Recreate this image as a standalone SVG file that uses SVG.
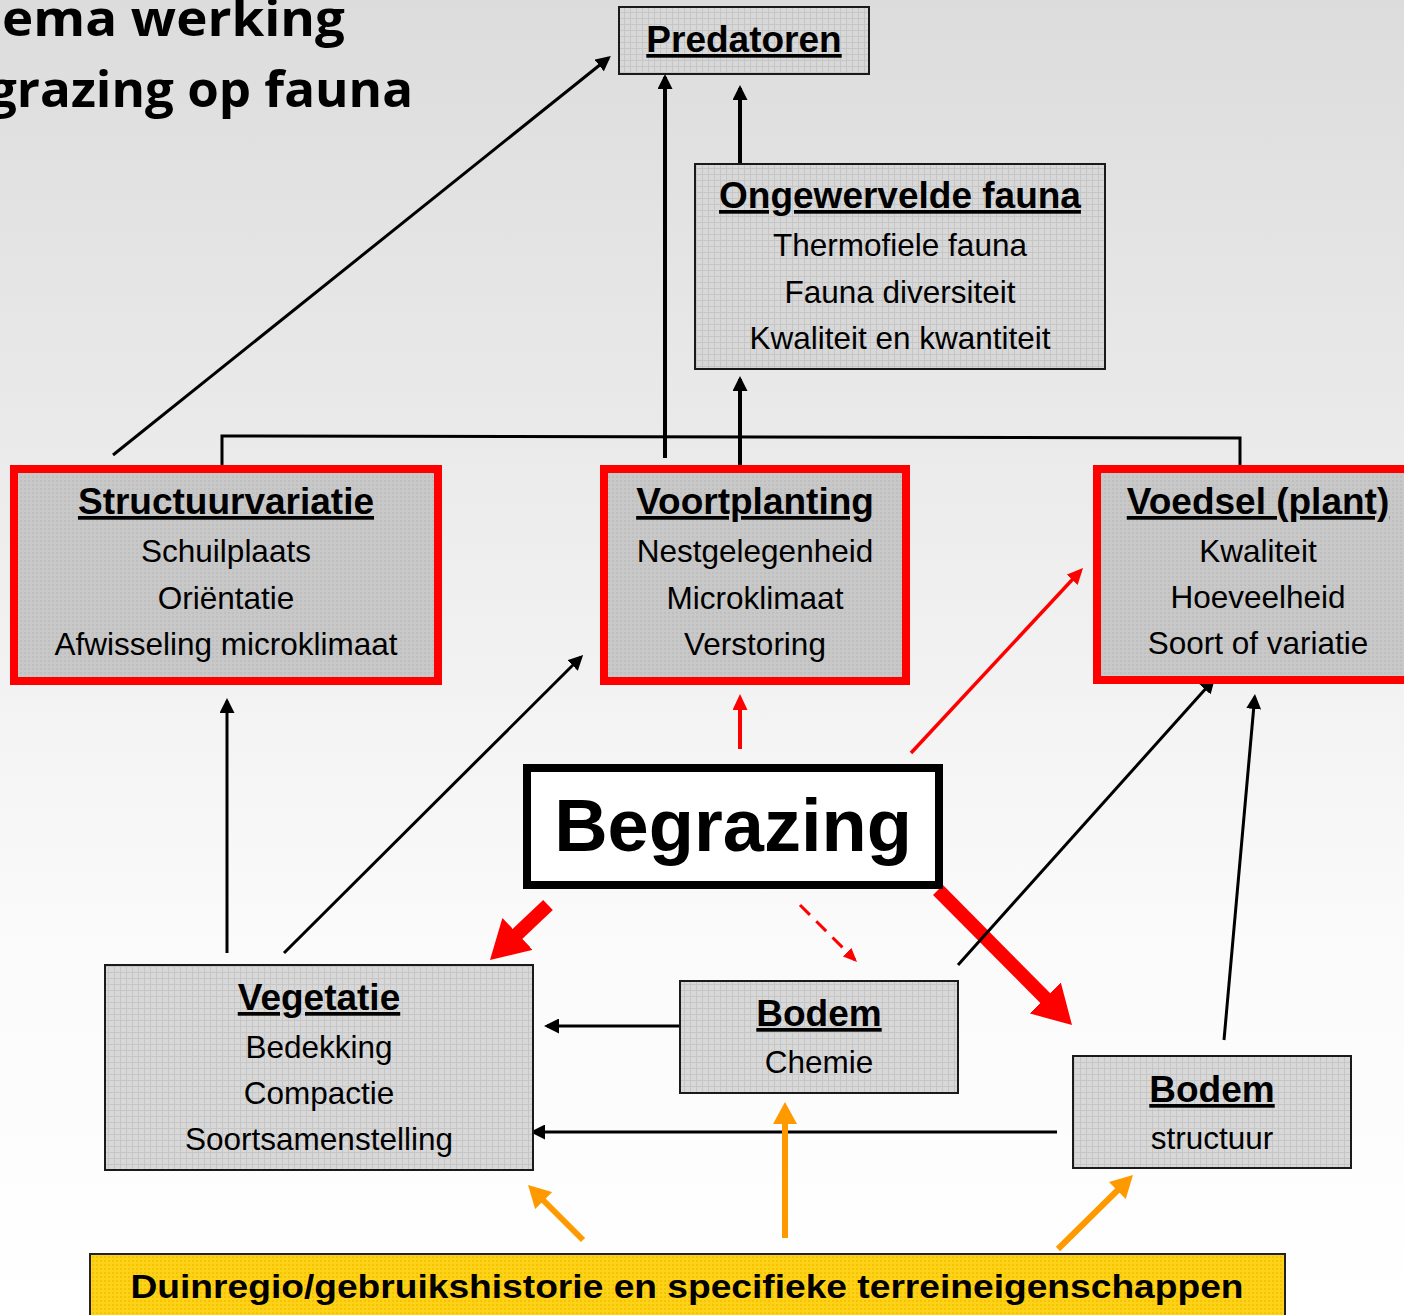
<svg xmlns="http://www.w3.org/2000/svg" width="1404" height="1315" viewBox="0 0 1404 1315">
  <defs>
    <linearGradient id="bg" x1="0" y1="0" x2="0" y2="1">
      <stop offset="0" stop-color="#dcdcdc"/>
      <stop offset="0.7" stop-color="#fafafa"/>
      <stop offset="1" stop-color="#ffffff"/>
    </linearGradient>
    <pattern id="grid" width="6" height="6" patternUnits="userSpaceOnUse">
      <rect width="6" height="6" fill="#d8d8d8"/>
      <path d="M0,0.5 H6 M0.5,0 V6" stroke="#c6c6c6" stroke-width="1"/>
    </pattern>
    <pattern id="dots" width="4" height="4" patternUnits="userSpaceOnUse">
      <rect width="4" height="4" fill="#c8c8c8"/>
      <rect width="2" height="2" fill="#bfbfbf"/>
    </pattern>
    <pattern id="ydots" width="4" height="4" patternUnits="userSpaceOnUse">
      <rect width="4" height="4" fill="#ffd21a"/>
      <rect width="2" height="2" fill="#f5c400"/>
    </pattern>
    <marker id="mk-black" viewBox="0 0 15 15" markerWidth="15" markerHeight="15" refX="12" refY="7.5" markerUnits="userSpaceOnUse" orient="auto">
      <path d="M0,0 L15,7.5 L0,15 z" fill="#000"/>
    </marker>
    <marker id="mk-red" viewBox="0 0 16 15" markerWidth="16" markerHeight="15" refX="12" refY="7.5" markerUnits="userSpaceOnUse" orient="auto">
      <path d="M0,0 L16,7.5 L0,15 z" fill="#ff0000"/>
    </marker>
    <marker id="mk-redsmall" viewBox="0 0 14 12" markerWidth="14" markerHeight="12" refX="11" refY="6" markerUnits="userSpaceOnUse" orient="auto">
      <path d="M0,0 L14,6 L0,12 z" fill="#ff0000"/>
    </marker>
    <marker id="mk-redbig" viewBox="0 0 38 44" markerWidth="38" markerHeight="44" refX="22" refY="22" markerUnits="userSpaceOnUse" orient="auto">
      <path d="M0,0 L38,22 L0,44 z" fill="#ff0000"/>
    </marker>
    <marker id="mk-orange" viewBox="0 0 22 24" markerWidth="22" markerHeight="24" refX="15" refY="12" markerUnits="userSpaceOnUse" orient="auto">
      <path d="M0,0 L22,12 L0,24 z" fill="#ff9900"/>
    </marker>
  </defs>
  <style>
    .box { fill: url(#grid); stroke: #1a1a1a; stroke-width: 2; }
    .rbox { fill: url(#dots); stroke: #ff0000; stroke-width: 8; }
    .t { font-family: "Liberation Sans", Arial, sans-serif; font-weight: bold; font-size: 37px; text-anchor: middle; text-decoration: underline; fill: #000; }
    .s { font-family: "Liberation Sans", Arial, sans-serif; font-size: 31.5px; text-anchor: middle; fill: #000; }
    .k { fill: none; stroke: #000; stroke-width: 3; }
    .k4 { fill: none; stroke: #000; stroke-width: 4; }
    .r { fill: none; stroke: #ff0000; }
    .o { fill: none; stroke: #ff9900; stroke-width: 6; }
    .title { font-family: "Open Sans", "Liberation Sans", sans-serif; font-weight: bold; font-size: 50px; fill: #000; }
  </style>

  <rect x="0" y="0" width="1404" height="1315" fill="url(#bg)"/>

  <g id="title">
    <text class="title" x="2" y="36" textLength="343" lengthAdjust="spacingAndGlyphs">ema werking</text>
    <text class="title" x="-12" y="107" textLength="425" lengthAdjust="spacingAndGlyphs">grazing op fauna</text>
  </g>

  <g id="connectors">
    <path class="k" d="M113,455 L608.5,58" marker-end="url(#mk-black)"/>
    <path class="k4" d="M665,458 V77" marker-end="url(#mk-black)"/>
    <path class="k4" d="M740,164 V88" marker-end="url(#mk-black)"/>
    <path class="k" d="M222,466 V436 L1240,438 V466"/>
    <path class="k4" d="M740,466 V379" marker-end="url(#mk-black)"/>
    <path class="k" d="M227,953 V701" marker-end="url(#mk-black)"/>
    <path class="k" d="M284,953 L581,657" marker-end="url(#mk-black)"/>
    <path class="r" stroke-width="4" d="M740,749 V698" marker-end="url(#mk-red)"/>
    <path class="r" stroke-width="3.5" d="M911,753 L1080.3,571" marker-end="url(#mk-red)"/>
    <path class="r" stroke-width="14" d="M548,905 L501.6,949" marker-end="url(#mk-redbig)"/>
    <path class="r" stroke-width="3" stroke-dasharray="14 9" d="M800,905 L854.9,959.9" marker-end="url(#mk-redsmall)"/>
    <path class="r" stroke-width="14" d="M938,890 L1060.7,1013.6" marker-end="url(#mk-redbig)"/>
    <path class="k" d="M958,965 L1213,680.5" marker-end="url(#mk-black)"/>
    <path class="k" d="M1224,1040 L1254.7,697" marker-end="url(#mk-black)"/>
    <path class="k" d="M680,1026 H547" marker-end="url(#mk-black)"/>
    <path class="k" d="M1057,1132 H533" marker-end="url(#mk-black)"/>
    <path class="o" d="M583,1240 L533,1190" marker-end="url(#mk-orange)"/>
    <path class="o" d="M785,1238 V1109" marker-end="url(#mk-orange)"/>
    <path class="o" d="M1058,1249 L1128,1180" marker-end="url(#mk-orange)"/>
  </g>

  <g id="predatoren">
    <rect class="box" x="619" y="7" width="250" height="67"/>
    <text class="t" x="744" y="52">Predatoren</text>
  </g>

  <g id="ongewervelde-fauna">
    <rect class="box" x="695" y="164" width="410" height="205"/>
    <text class="t" x="900" y="208">Ongewervelde fauna</text>
    <text class="s" x="900" y="256">Thermofiele fauna</text>
    <text class="s" x="900" y="303">Fauna diversiteit</text>
    <text class="s" x="900" y="349">Kwaliteit en kwantiteit</text>
  </g>

  <g id="structuurvariatie">
    <rect class="rbox" x="14" y="469" width="424" height="212"/>
    <text class="t" x="226" y="514">Structuurvariatie</text>
    <text class="s" x="226" y="562">Schuilplaats</text>
    <text class="s" x="226" y="609">Oriëntatie</text>
    <text class="s" x="226" y="655">Afwisseling microklimaat</text>
  </g>

  <g id="voortplanting">
    <rect class="rbox" x="604" y="469" width="302" height="212"/>
    <text class="t" x="755" y="514">Voortplanting</text>
    <text class="s" x="755" y="562">Nestgelegenheid</text>
    <text class="s" x="755" y="609">Microklimaat</text>
    <text class="s" x="755" y="655">Verstoring</text>
  </g>

  <g id="voedsel">
    <rect class="rbox" x="1097" y="469" width="330" height="211"/>
    <text class="t" x="1258" y="514">Voedsel (plant)</text>
    <text class="s" x="1258" y="562">Kwaliteit</text>
    <text class="s" x="1258" y="608">Hoeveelheid</text>
    <text class="s" x="1258" y="654">Soort of variatie</text>
  </g>

  <g id="begrazing">
    <rect x="527" y="768" width="412" height="117" fill="#ffffff" stroke="#000" stroke-width="8"/>
    <text x="733" y="851" text-anchor="middle" font-family="Liberation Sans, Arial, sans-serif" font-weight="bold" font-size="74">Begrazing</text>
  </g>

  <g id="vegetatie">
    <rect class="box" x="105" y="965" width="428" height="205"/>
    <text class="t" x="319" y="1010">Vegetatie</text>
    <text class="s" x="319" y="1058">Bedekking</text>
    <text class="s" x="319" y="1104">Compactie</text>
    <text class="s" x="319" y="1150">Soortsamenstelling</text>
  </g>

  <g id="bodem-chemie">
    <rect class="box" x="680" y="981" width="278" height="112"/>
    <text class="t" x="819" y="1026">Bodem</text>
    <text class="s" x="819" y="1073">Chemie</text>
  </g>

  <g id="bodem-structuur">
    <rect class="box" x="1073" y="1056" width="278" height="112"/>
    <text class="t" x="1212" y="1102">Bodem</text>
    <text class="s" x="1212" y="1149">structuur</text>
  </g>

  <g id="duinregio">
    <rect x="90" y="1254" width="1195" height="70" fill="url(#ydots)" stroke="#222" stroke-width="2"/>
    <text x="687" y="1298" text-anchor="middle" font-family="Liberation Sans, Arial, sans-serif" font-weight="bold" font-size="34" textLength="1113" lengthAdjust="spacingAndGlyphs">Duinregio/gebruikshistorie en specifieke terreineigenschappen</text>
  </g>
</svg>
